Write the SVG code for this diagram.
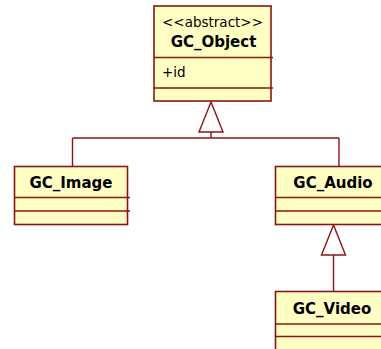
<svg xmlns="http://www.w3.org/2000/svg" width="381" height="349" viewBox="0 0 381 349">
  <style>
    .box { fill: #FFFFC4; stroke: #8B1414; stroke-width: 1.6; }
    .sep { fill: none; stroke: #8B1414; stroke-width: 1.6; }
    .edge { fill: none; stroke: #8B1414; stroke-width: 1.4; }
    .head { fill: #FFFFFF; stroke: #8B1414; stroke-width: 1.4; }
    .name { font-family: "DejaVu Sans", Verdana, sans-serif; font-size: 15px; font-weight: bold; fill: #000000; text-anchor: middle; }
    .stereo { font-family: "DejaVu Sans", Verdana, sans-serif; font-size: 13.5px; fill: #000000; text-anchor: middle; }
    .attr { font-family: "DejaVu Sans", Verdana, sans-serif; font-size: 13.5px; fill: #000000; }
  </style>
  <rect width="381" height="349" fill="#FFFFFF"/>

  <!-- generalization connectors -->
  <g id="connectors">
    <path class="edge" d="M211,132 V138 M72.5,138 H339 M72.5,138 V166.5 M339,138 V166.5"/>
    <polygon class="head" points="211,102 199,132 223,132"/>
    <path class="edge" d="M333.5,255 V291.5"/>
    <polygon class="head" points="333.5,225 321.5,255 345.5,255"/>
  </g>

  <g id="GC_Object">
    <rect class="box" x="154" y="6" width="117" height="95"/>
    <path class="sep" d="M154,57.5 H273 M154,88 H273"/>
    <text class="stereo" x="212.5" y="27">&lt;&lt;abstract&gt;&gt;</text>
    <text class="name" x="213.5" y="47">GC_Object</text>
    <text class="attr" x="162" y="77">+id</text>
  </g>

  <g id="GC_Image">
    <rect class="box" x="14.5" y="166.5" width="113" height="58"/>
    <path class="sep" d="M14.5,197.5 H130 M14.5,211 H130"/>
    <text class="name" x="71" y="188">GC_Image</text>
  </g>

  <g id="GC_Audio">
    <rect class="box" x="275.5" y="166.5" width="116" height="58"/>
    <path class="sep" d="M275.5,197.5 H391 M275.5,211 H391"/>
    <text class="name" x="333" y="188">GC_Audio</text>
  </g>

  <g id="GC_Video">
    <rect class="box" x="275.5" y="291.5" width="116" height="70"/>
    <path class="sep" d="M275.5,324 H391 M275.5,336.5 H391"/>
    <text class="name" x="332" y="314">GC_Video</text>
  </g>
</svg>
